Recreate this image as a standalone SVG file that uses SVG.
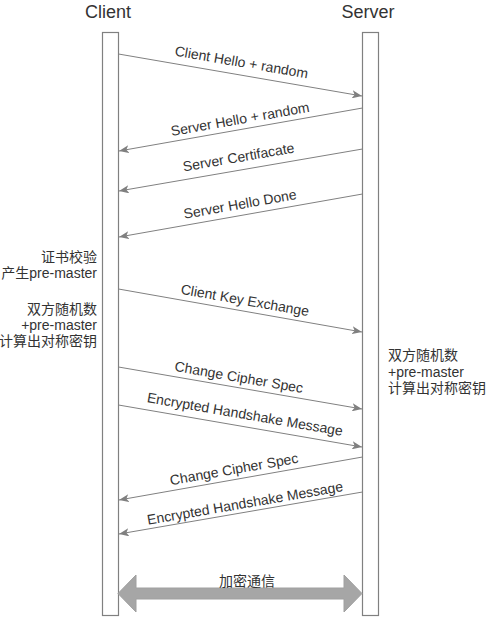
<svg xmlns="http://www.w3.org/2000/svg" width="486" height="617" viewBox="0 0 486 617">
<style>
.lane{fill:#ffffff;stroke:#808080;stroke-width:1.2}
.msg{stroke:#808080;stroke-width:1;fill:none;marker-end:url(#ah)}
.t{font-family:"Liberation Sans",Arial,"Noto Sans CJK SC",sans-serif;font-size:14px;fill:#333333}
.h{font-family:"Liberation Sans",Arial,sans-serif;font-size:18px;fill:#333333;text-anchor:middle}
.m{text-anchor:middle}
.r{text-anchor:end}
</style>
<defs>
<marker id="ah" markerUnits="userSpaceOnUse" markerWidth="10" markerHeight="8" refX="10" refY="4" orient="auto">
<path d="M0,0 L10,4 L0,8 L2.5,4 Z" fill="#808080"/>
</marker>
</defs>
<rect width="486" height="617" fill="#ffffff"/>
<g id="client">
<text class="h" x="108" y="18">Client</text>
<rect class="lane" x="102.5" y="32.5" width="16" height="583"/>
</g>
<g id="server">
<text class="h" x="368" y="18">Server</text>
<rect class="lane" x="362.5" y="32.5" width="16" height="583"/>
</g>
<g id="connectors">
<line class="msg" x1="118.5" y1="54" x2="362" y2="96"/>
<line class="msg" x1="362.5" y1="108" x2="119" y2="151"/>
<line class="msg" x1="362.5" y1="149" x2="119" y2="191"/>
<line class="msg" x1="362.5" y1="194" x2="119" y2="237"/>
<line class="msg" x1="118.5" y1="289" x2="362" y2="332"/>
<line class="msg" x1="118.5" y1="367" x2="362" y2="409"/>
<line class="msg" x1="118.5" y1="405" x2="362" y2="447"/>
<line class="msg" x1="362.5" y1="457" x2="119" y2="500"/>
<line class="msg" x1="362.5" y1="492" x2="119" y2="534"/>
<path d="M118,593.5 L136,575 L136,588 L344,588 L344,575 L362,593.5 L344,612 L344,599 L136,599 L136,612 Z" fill="#a6a6a6" stroke="#a0a0a0" stroke-width="1"/>
</g>
<g id="labels">
<g transform="translate(241.5,62) rotate(9.8)"><text class="t m" y="5">Client Hello + random</text></g>
<g transform="translate(240,119) rotate(-10)"><text class="t m" y="5">Server Hello + random</text></g>
<g transform="translate(238.5,157) rotate(-9.8)"><text class="t m" y="5">Server Certifacate</text></g>
<g transform="translate(240,204) rotate(-10)"><text class="t m" y="5">Server Hello Done</text></g>
<g transform="translate(245,300) rotate(10)"><text class="t m" y="5">Client Key Exchange</text></g>
<g transform="translate(239,377) rotate(9.8)"><text class="t m" y="5">Change Cipher Spec</text></g>
<g transform="translate(245,414) rotate(9.8)"><text class="t m" y="5">Encrypted Handshake Message</text></g>
<g transform="translate(234,469) rotate(-10)"><text class="t m" y="5">Change Cipher Spec</text></g>
<g transform="translate(245,503) rotate(-9.8)"><text class="t m" y="5">Encrypted Handshake Message</text></g>
<text class="t m" x="247" y="586">加密通信</text>
</g>
<g id="note-client">
<text class="t r" x="97" y="262">证书校验</text>
<text class="t r" x="97" y="278">产生pre-master</text>
<text class="t r" x="97" y="314">双方随机数</text>
<text class="t r" x="97" y="330">+pre-master</text>
<text class="t r" x="97" y="346">计算出对称密钥</text>
</g>
<g id="note-server">
<text class="t" x="388" y="360">双方随机数</text>
<text class="t" x="388" y="377">+pre-master</text>
<text class="t" x="388" y="393">计算出对称密钥</text>
</g>
</svg>
